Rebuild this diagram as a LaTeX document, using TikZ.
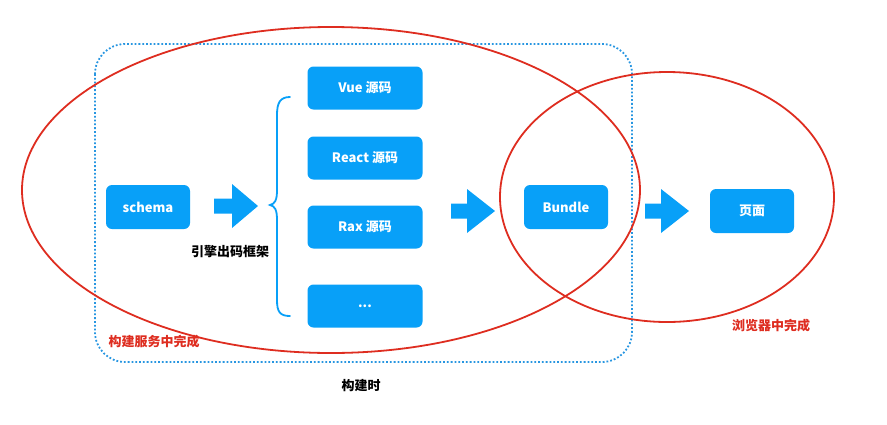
\documentclass[tikz,border=0pt]{standalone}
\usepackage{fontspec}
\setmainfont{Noto Sans CJK SC}
\usetikzlibrary{shapes.geometric}
\definecolor{boxblue}{RGB}{8,160,248}
\definecolor{dotblue}{RGB}{40,150,225}
\definecolor{ringred}{RGB}{222,45,32}
\tikzset{
  box/.style={fill=boxblue, rounded corners=6pt, minimum width=84pt, minimum height=44pt, text=white, font=\fontsize{13}{15}\selectfont\bfseries, inner sep=0pt},
  srcbox/.style={box, minimum width=115pt, minimum height=43pt},
  ring/.style={draw=ringred, line width=1.8pt},
  lbl/.style={font=\fontsize{13}{15}\selectfont\bfseries, inner sep=0pt},
  blockarrow/.style={fill=boxblue},
}
\begin{document}
\begin{tikzpicture}[x=1pt,y=-1pt]
\useasboundingbox (0,0) rectangle (887,424);
% dotted build-time frame
\draw[dotblue, line width=1.8pt, dotted, rounded corners=30pt] (95,44) rectangle (632,362);
% boxes
\node[box] (schema) at (148,207) {schema};
\node[srcbox] (vue) at (365,88) {Vue 源码};
\node[srcbox] (react) at (365,158) {React 源码};
\node[srcbox] (rax) at (365,227) {Rax 源码};
\node[srcbox] (more) at (365,306) {...};
\node[box] (bundle) at (566,207) {Bundle};
\node[box] (page) at (752,211) {页面};
% brace
\draw[boxblue, line width=1.8pt, line cap=round]
  (290,97) .. controls (280,97) and (277,103) .. (277,115)
  -- (277,190) .. controls (277,200) and (275,204) .. (270,205)
  .. controls (275,206) and (277,210) .. (277,220)
  -- (277,300) .. controls (277,312) and (280,316) .. (290,316);
% block arrows
\coordinate (a1) at (214,206);
\coordinate (a2) at (451,211);
\coordinate (a3) at (645,211);
\foreach \c/\s/\h in {a1/18/26, a2/16/28, a3/16/28}{
  \fill[blockarrow] (\c) ++(0,-7.5) -- ++(\s,0) -- ++(0,-14.5) -- ++(\h,22) -- ++(-\h,22) -- ++(0,-14.5) -- ++(-\s,0) -- cycle;
}
% ellipses
\draw[ring] (331,190) ellipse [x radius=309, y radius=163];
\draw[ring] (667,197) ellipse [x radius=167, y radius=125];
% labels
\node[lbl] (engine) at (230,252) {引擎出码框架};
\node[lbl, text=ringred] (buildsvc) at (154,342) {构建服务中完成};
\node[lbl] (buildtime) at (361,386) {构建时};
\node[lbl, text=ringred] (browser) at (771,326) {浏览器中完成};
\end{tikzpicture}
\end{document}
